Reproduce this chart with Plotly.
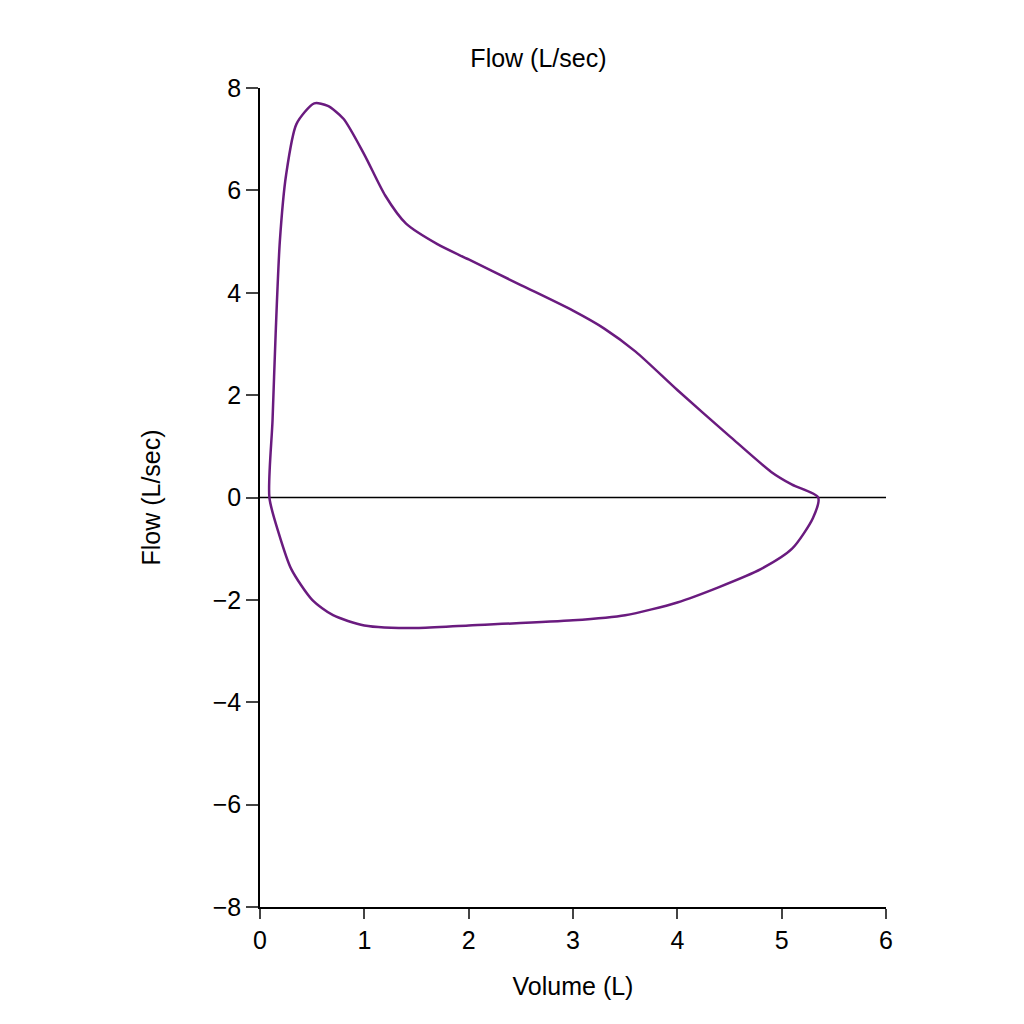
import plotly.graph_objects as go

exp_vol = [0.09,0.12,0.15,0.19,0.25,0.35,0.52,0.65,0.8,1.0,1.2,1.4,1.7,2.0,2.5,3.0,3.3,3.6,4.0,4.5,4.9,5.1,5.35]
exp_flow = [0,1.5,3.2,5.0,6.3,7.3,7.7,7.65,7.4,6.7,5.9,5.35,4.95,4.65,4.15,3.65,3.3,2.85,2.1,1.2,0.5,0.25,0]
insp_vol = [5.35,5.3,5.1,4.8,4.4,4.0,3.5,3.0,2.0,1.5,1.0,0.7,0.5,0.3,0.18,0.09]
insp_flow = [0,-0.4,-1.0,-1.4,-1.75,-2.05,-2.3,-2.4,-2.5,-2.55,-2.5,-2.3,-2.0,-1.4,-0.7,0]

color = "#6a1b7f"
fig = go.Figure()
fig.add_trace(go.Scatter(x=[0,6], y=[0,0], mode="lines", line=dict(color="black", width=1.5), hoverinfo="skip"))
fig.add_trace(go.Scatter(x=exp_vol+insp_vol[1:], y=exp_flow+insp_flow[1:], mode="lines",
                         line=dict(color=color, width=2.5, shape="spline", smoothing=0.7)))
fig.update_layout(
    width=1024, height=1024, showlegend=False, plot_bgcolor="white", paper_bgcolor="white",
    margin=dict(l=252, r=146, t=80, b=125),
    font=dict(family="Liberation Sans, Arial", size=25, color="black"),
    title=dict(text="Flow (L/sec)", x=0.518, xanchor="center", yanchor="middle", y=0.951, font=dict(size=25)),
)
fig.update_xaxes(range=[0,6], tickvals=[0,1,2,3,4,5,6], showline=True, linecolor="black", linewidth=1.5,
                 ticks="outside", ticklen=10, tickwidth=1.5, showgrid=False, zeroline=False,
                 tickfont=dict(size=25), title=dict(text="Volume (L)", standoff=25, font=dict(size=25)))
fig.update_yaxes(range=[-8,8], tickvals=[-8,-6,-4,-2,0,2,4,6,8], ticktext=["−8","−6","−4","−2","0","2","4","6","8"],
                 showline=True, linecolor="black", linewidth=1.5,
                 ticks="outside", ticklen=12, tickwidth=1.5, showgrid=False, zeroline=False,
                 tickfont=dict(size=25), title=dict(text="Flow (L/sec)", standoff=45, font=dict(size=25)))
fig.write_html("out.html")
